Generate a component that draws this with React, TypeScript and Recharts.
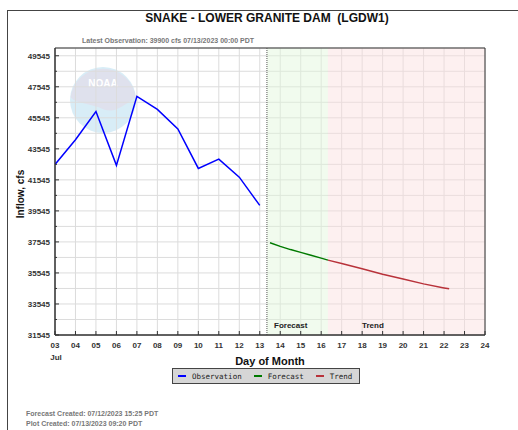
import React from "react";
import {
  LineChart,
  Line,
  XAxis,
  YAxis,
  CartesianGrid,
  ReferenceArea,
  ReferenceLine,
} from "recharts";

const FONT = '"Liberation Sans", Arial, sans-serif';

// observed inflow, daily at 00:00 (cfs)
const OBS_DAYS = [3, 4, 5, 6, 7, 8, 9, 10, 11, 12, 13];
const OBS_VALUES = [42540, 44130, 45950, 42480, 46930, 46090, 44830, 42280, 42880, 41720, 39900];

// NWRFC forecast
const FC_DAYS = [13.5, 14, 14.5, 15, 15.5, 16, 16.33];
const FC_VALUES = [37490, 37260, 37050, 36870, 36690, 36500, 36370];

// trend beyond forecast
const TREND_DAYS = [16.33, 17, 18, 19, 20, 21, 22, 22.25];
const TREND_VALUES = [36370, 36150, 35810, 35460, 35150, 34840, 34580, 34520];

const X_TICKS = [3, 4, 5, 6, 7, 8, 9, 10, 11, 12, 13, 14, 15, 16, 17, 18, 19, 20, 21, 22, 23, 24];
const Y_TICKS = [
  31545, 32545, 33545, 34545, 35545, 36545, 37545, 38545, 39545, 40545,
  41545, 42545, 43545, 44545, 45545, 46545, 47545, 48545, 49545,
];
const Y_LABELED = [31545, 33545, 35545, 37545, 39545, 41545, 43545, 45545, 47545, 49545];

const NOW_DAY = 13.35; // plot created 07/13 ~09:20
const FC_END = 16.33;

const obsData = OBS_DAYS.map((d, i) => ({ day: d, value: OBS_VALUES[i] }));
const fcData = FC_DAYS.map((d, i) => ({ day: d, value: FC_VALUES[i] }));
const trendData = TREND_DAYS.map((d, i) => ({ day: d, value: TREND_VALUES[i] }));

const LEGEND = [
  { name: "Observation", color: "#0000ff" },
  { name: "Forecast", color: "#007a00" },
  { name: "Trend", color: "#b8323a" },
];

function YTick(props: any) {
  const { x, y, payload } = props;
  const major = Y_LABELED.includes(payload.value);
  return (
    <g>
      <line x1={x + 5} x2={x + (major ? 9 : 7)} y1={y} y2={y} stroke="#333" />
      {major && (
        <text x={x} y={y + 3} textAnchor="end" fontSize={8} fontWeight="bold" fill="#333" fontFamily={FONT}>
          {payload.value}
        </text>
      )}
    </g>
  );
}

function XTick(props: any) {
  const { x, y, payload } = props;
  const lbl = String(payload.value).padStart(2, "0");
  return (
    <g>
      <line x1={x} x2={x} y1={y - 6} y2={y - 10} stroke="#333" />
      <text x={x} y={y + 7} textAnchor="middle" fontSize={8} fontWeight="bold" fill="#333" fontFamily={FONT}>
        {lbl}
      </text>
      {payload.value === 3 && (
        <text x={x + 1} y={y + 19} textAnchor="middle" fontSize={8} fontWeight="bold" fill="#333" fontFamily={FONT}>
          Jul
        </text>
      )}
    </g>
  );
}

function LegendBox() {
  return (
    <div
      style={{
        position: "absolute",
        left: 172,
        top: 368,
        width: 186,
        height: 14,
        background: "#d6d6d6",
        border: "1px solid #444",
        display: "flex",
        alignItems: "center",
        fontFamily: '"DejaVu Sans Mono", monospace',
        fontSize: 7.5,
        color: "#222",
      }}
    >
      {LEGEND.map((l, i) => (
        <span key={l.name} style={{ display: "flex", alignItems: "center", marginLeft: i === 0 ? 5 : 12 }}>
          <span style={{ display: "inline-block", width: 8, height: 2, background: l.color, marginRight: 6 }} />
          {l.name}
        </span>
      ))}
    </div>
  );
}

function NoaaMark() {
  return (
    <svg width={518} height={430} style={{ position: "absolute", left: 0, top: 0 }}>
      <circle cx={103} cy={100} r={33} fill="#d8edf7" />
      <path
        d="M70.5,97 A33,33 0 0 1 135.8,97 C130,101 124,106 117,109 C110,112 104,110 98,107 C92,105 85,104 79,102 C75,101 72,99 70.5,97 Z"
        fill="#dfe1ed"
      />
      <text x={103} y={87} textAnchor="middle" fontSize={10} fontWeight="bold" fill="#ffffff" fontFamily={FONT}>
        NOAA
      </text>
    </svg>
  );
}

export default function App() {
  return (
    <div style={{ position: "absolute", left: 0, top: 0, width: 518, height: 430, background: "#fff", fontFamily: FONT }}>
      <div
        style={{
          position: "absolute",
          left: 7,
          top: 10,
          width: 520,
          height: 430,
          borderLeft: "1px solid #444",
          borderTop: "1px solid #444",
        }}
      />
      <NoaaMark />
      <div style={{ position: "absolute", left: 0, top: 0 }}>
        <LineChart
          width={518}
          height={430}
          margin={{ top: 48, right: 33, left: 10, bottom: 65 }}
        >
          <CartesianGrid stroke="#dcdcdc" strokeWidth={1} />
          <ReferenceArea x1={NOW_DAY} x2={FC_END} y1={31545} y2={50045} fill="#dff7d9" fillOpacity={0.45} stroke="none" />
          <ReferenceArea x1={FC_END} x2={24} y1={31545} y2={50045} fill="#fbdede" fillOpacity={0.45} stroke="none" />
          <ReferenceLine x={NOW_DAY} stroke="#555" strokeDasharray="1 1" />
          <ReferenceArea x1={3} x2={24} y1={31545} y2={50045} fill="none" stroke="#333" strokeWidth={1} />
          <XAxis
            dataKey="day"
            type="number"
            domain={[3, 24]}
            ticks={X_TICKS}
            interval={0}
            allowDataOverflow
            axisLine={{ stroke: "#333" }}
            tickLine={false}
            tickSize={0}
            tickMargin={6}
            height={30}
            tick={XTick}
          />
          <YAxis
            type="number"
            domain={[31545, 50045]}
            ticks={Y_TICKS}
            interval={0}
            allowDataOverflow
            axisLine={{ stroke: "#333" }}
            tickLine={false}
            tickSize={0}
            tickMargin={5}
            width={45}
            tick={YTick}
          />
          <Line data={obsData} dataKey="value" name="Observation" stroke="#0000ff" strokeWidth={1.5} dot={false} isAnimationActive={false} />
          <Line data={fcData} dataKey="value" name="Forecast" stroke="#007a00" strokeWidth={1.5} dot={false} isAnimationActive={false} />
          <Line data={trendData} dataKey="value" name="Trend" stroke="#b8323a" strokeWidth={1.5} dot={false} isAnimationActive={false} />
        </LineChart>
      </div>
      <LegendBox />

      <div style={{ position: "absolute", left: 0, width: 534, top: 11, textAlign: "center", fontSize: 12, fontWeight: "bold", color: "#111" }}>
        SNAKE - LOWER GRANITE DAM&nbsp; (LGDW1)
      </div>
      <div style={{ position: "absolute", left: 82, top: 37, fontSize: 7, fontWeight: "bold", color: "#777" }}>
        Latest Observation: 39900 cfs 07/13/2023 00:00 PDT
      </div>
      <div
        style={{
          position: "absolute",
          left: 20,
          top: 194,
          transform: "translate(-50%, -50%) rotate(-90deg)",
          fontSize: 10,
          fontWeight: "bold",
          color: "#111",
          whiteSpace: "nowrap",
        }}
      >
        Inflow, cfs
      </div>
      <div style={{ position: "absolute", left: 270, top: 361, transform: "translate(-50%, -50%)", fontSize: 11, fontWeight: "bold", color: "#111", whiteSpace: "nowrap" }}>
        Day of Month
      </div>
      <div style={{ position: "absolute", left: 274, top: 321, fontSize: 8, fontWeight: "bold", color: "#222" }}>Forecast</div>
      <div style={{ position: "absolute", left: 362, top: 321, fontSize: 8, fontWeight: "bold", color: "#222" }}>Trend</div>
      <div style={{ position: "absolute", left: 26, top: 409, fontSize: 7, fontWeight: "bold", color: "#777", lineHeight: "10px" }}>
        Forecast Created: 07/12/2023 15:25 PDT
        <br />
        Plot Created: 07/13/2023 09:20 PDT
      </div>
    </div>
  );
}
